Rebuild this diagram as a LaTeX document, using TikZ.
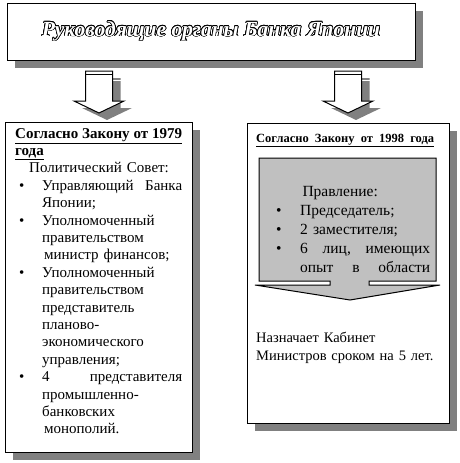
\documentclass[tikz,border=0pt]{standalone}
\usepackage{fontspec}
\setmainfont{Liberation Serif}
\usepackage{contour}
\contourlength{0.7pt}
\usepackage{tikz}
\usetikzlibrary{shapes,positioning,shadows}
\usepackage{xcolor}
\definecolor{bjshadow}{RGB}{128,128,128}
\definecolor{bjsilver}{RGB}{192,192,192}
\tikzstyle{headbox} = [rectangle, draw=black, fill=white, line width=1pt, inner sep=0pt, drop shadow={shadow xshift=8pt, shadow yshift=-8pt, fill=bjshadow, opacity=1}]
\tikzstyle{lawbox} = [rectangle, draw=black, fill=white, line width=1pt, inner sep=0pt, drop shadow={shadow xshift=8pt, shadow yshift=-8pt, fill=bjshadow, opacity=1}]
\tikzstyle{listtext} = [inner sep=0pt, align=left, font=\fontsize{15}{17.4}\selectfont]
\tikzstyle{blockarrow} = [draw=black, fill=white, line width=1pt, line join=miter]
\newcommand{\lbul}{\makebox[27pt][l]{\hspace*{4pt}\textbullet}}
\newcommand{\lind}{\hspace*{27pt}}

\begin{document}
\begin{tikzpicture}[x=1pt,y=-1pt]
\useasboundingbox (0,0) rectangle (459,463);

% Title
\node[headbox, minimum width=408pt, minimum height=57pt] (title) at (211,31.5)
  {\fontsize{21.5}{24}\selectfont\bfseries\itshape\textcolor{white}{\contour{black}{Руководящие органы Банка Японии}}};

% Block arrows under the title
\foreach \cx in {99,348} {
  \fill[bjshadow] (\cx-5.5,78) -- (\cx+21.5,78) -- (\cx+21.5,108) -- (\cx+33,108) -- (\cx+8,120) -- (\cx-17,108) -- (\cx-5.5,108) -- cycle;
  \draw[white, line width=1.2pt] (\cx-5.5,80.5) -- (\cx+21.5,80.5);
  \draw[blockarrow] (\cx-13.5,71) -- (\cx+13.5,71) -- (\cx+13.5,101) -- (\cx+25,101) -- (\cx,113) -- (\cx-25,101) -- (\cx-13.5,101) -- cycle;
  \draw[line width=1.2pt] (\cx-13.5,74.5) -- (\cx+13.5,74.5);
}

% Law of 1979
\node[lawbox, minimum width=187pt, minimum height=330pt] (law79) at (98.5,287) {};
\node[listtext, text width=172pt, anchor=north west] (council) at (15,128) {%
\underline{\makebox[167pt][l]{\textbf{Согласно\hfill Закону\hfill от\hfill 1979}}}\\
\underline{\textbf{года}}\\
\hspace*{14pt}Политический Совет:\\
\lbul\makebox[140pt][l]{Управляющий\hfill Банка}\\
\lind Японии;\\
\lbul Уполномоченный\\
\lind правительством\\
\lind\hspace*{2pt}министр финансов;\\
\lbul Уполномоченный\\
\lind правительством\\
\lind представитель\\
\lind планово-\\
\lind экономического\\
\lind управления;\\
\lbul\makebox[140pt][l]{4\hfill представителя}\\
\lind промышленно-\\
\lind банковских\\
\lind\hspace*{2pt}монополий.};

% Law of 1998
\node[lawbox, minimum width=202pt, minimum height=300pt] (law98) at (348,273) {};
\node[inner sep=0pt, anchor=base west, font=\fontsize{12.5}{14}\selectfont] (law98head) at (256,142)
  {\underline{\makebox[178pt][l]{\textbf{Согласно\hfill Закону\hfill от\hfill 1998\hfill года}}}};

% Board callout
\filldraw[fill=bjsilver, draw=black, line width=1pt] (259,158) -- (436,158) -- (436,281) -- (369,281) -- (369,285) -- (440,285) -- (350,300) -- (255,285) -- (330,285) -- (330,281) -- (259,281) -- cycle;
\node[listtext, font=\fontsize{15.5}{19}\selectfont, text width=162pt, anchor=north west] (board) at (273,186) {%
\makebox[134pt][c]{Правление:}\\
\makebox[27pt][l]{\hspace*{3pt}\textbullet}Председатель;\\
\makebox[27pt][l]{\hspace*{3pt}\textbullet}2 заместителя;\\
\makebox[27pt][l]{\hspace*{3pt}\textbullet}\makebox[130pt][l]{6\hfill лиц,\hfill имеющих}\\
\hspace*{27pt}\makebox[130pt][l]{опыт\hfill в\hfill области}};

% Appointment
\node[listtext, font=\fontsize{14.5}{18}\selectfont, text width=185pt, anchor=north west] (cabinet) at (256,332) {%
Назначает Кабинет\\
Министров сроком на 5 лет.};
\end{tikzpicture}
\end{document}
